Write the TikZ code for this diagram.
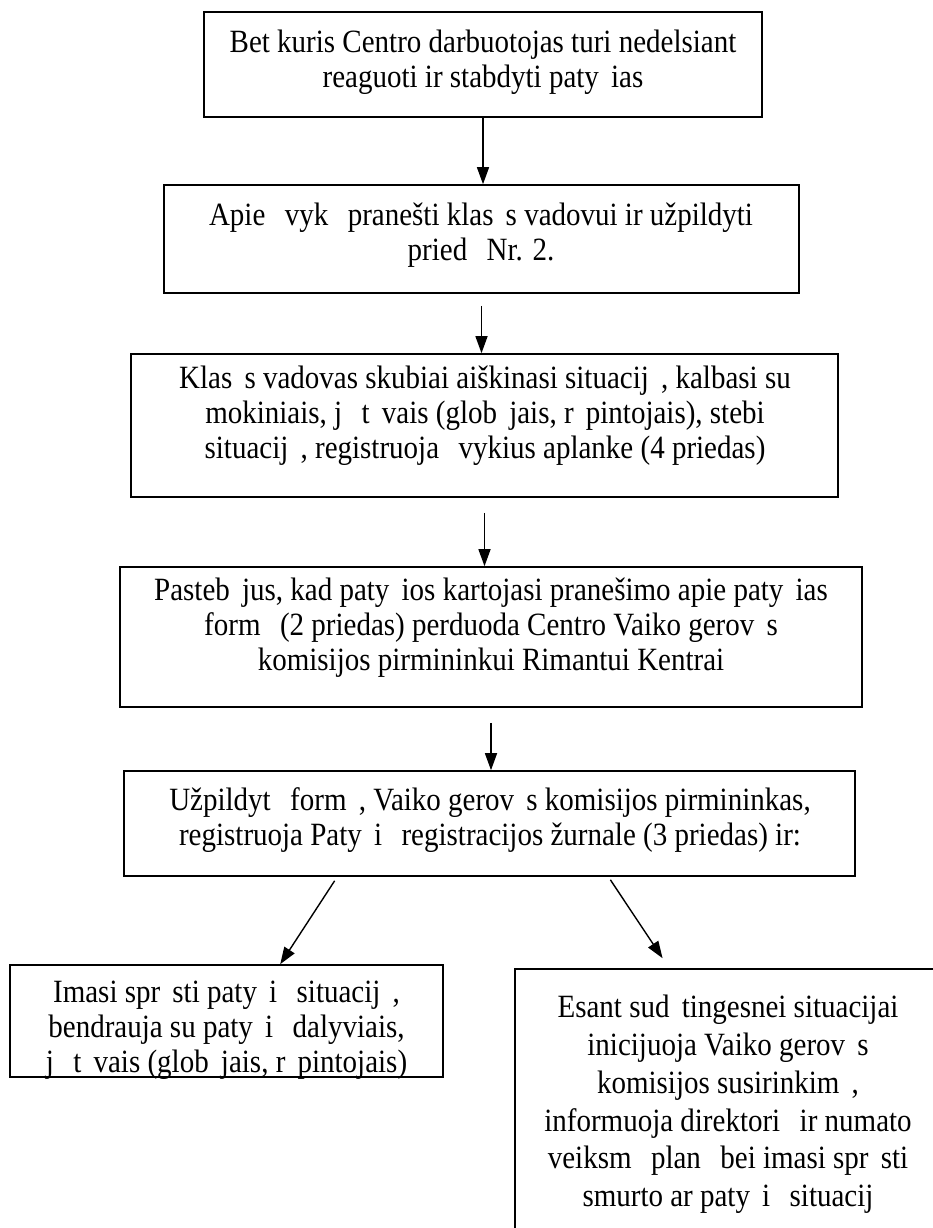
\documentclass[tikz,border=0pt]{standalone}
\usepackage{fontspec}
\setmainfont{Liberation Serif}
\usetikzlibrary{arrows.meta,calc}
\newcommand\mc{\hspace{0.42em}}
\newcommand\tx[2][31.25]{\scalebox{1}[1.12]{\parbox{900pt}{\centering\fontsize{29}{#1}\selectfont\lineskiplimit=-30pt #2}}}
\tikzset{
  box/.style={draw, line width=1.6pt, rectangle, inner sep=0pt},
  txt/.style={inner sep=0pt},
  arr/.style={line width=1.4pt, -{Triangle[length=17pt,width=12pt]}}
}
\begin{document}
\begin{tikzpicture}[x=1pt,y=-1pt]
\useasboundingbox (0,0) rectangle (933,1228);
\clip (0,0) rectangle (933,1228);
% boxes
\node[box, minimum width=558pt, minimum height=105pt] (b1) at (483,64.5) {};
\node[box, minimum width=635pt, minimum height=108pt] (b2) at (481.5,239) {};
\node[box, minimum width=707pt, minimum height=143pt] (b3) at (484.5,425.5) {};
\node[box, minimum width=742pt, minimum height=140pt] (b4) at (491,637) {};
\node[box, minimum width=731pt, minimum height=105pt] (b5) at (489.5,823.5) {};
\node[box, minimum width=433pt, minimum height=112pt] (b6) at (226.5,1021) {};
\node[box, minimum width=426pt, minimum height=276pt] (b7) at (728,1107) {};
% texts
\node[txt] (t1) at (483,62.5) {\tx{Bet kuris Centro darbuotojas turi nedelsiant\\reaguoti ir stabdyti paty\mc ias}};
\node[txt] (t2) at (481,235.5) {\tx{Apie \mc vyk\mc\ pranešti klas\mc s vadovui ir užpildyti\\pried\mc\ Nr. 2.}};
\node[txt] (t3) at (485,415.5) {\tx{Klas\mc s vadovas skubiai aiškinasi situacij\mc , kalbasi su\\mokiniais, j\mc\ t\mc vais (glob\mc jais, r\mc pintojais), stebi\\situacij\mc , registruoja \mc vykius aplanke (4 priedas)}};
\node[txt] (t4) at (491,627.5) {\tx{Pasteb\mc jus, kad paty\mc ios kartojasi pranešimo apie paty\mc ias\\form\mc\ (2 priedas) perduoda Centro Vaiko gerov\mc s\\komisijos pirmininkui Rimantui Kentrai}};
\node[txt] (t5) at (490,820.5) {\tx{Užpildyt\mc\ form\mc , Vaiko gerov\mc s komisijos pirmininkas,\\registruoja Paty\mc i\mc\ registracijos žurnale (3 priedas) ir:}};
\node[txt] (t6) at (226.5,1030) {\tx{Imasi spr\mc sti paty\mc i\mc\ situacij\mc ,\\bendrauja su paty\mc i\mc\ dalyviais,\\j\mc\ t\mc vais (glob\mc jais, r\mc pintojais)}};
\node[txt] (t7) at (728,1104.5) {\tx[33.75]{Esant sud\mc tingesnei situacijai\\inicijuoja Vaiko gerov\mc s\\komisijos susirinkim\mc ,\\informuoja direktori\mc\ ir numato\\veiksm\mc\ plan\mc\ bei imasi spr\mc sti\\smurto ar paty\mc i\mc\ situacij\mc}};
% connectors
\draw[arr] (b1.south) -- (b1.south |- b2.north);
\draw[arr] ([yshift=-12pt]b2.south) -- (b2.south |- b3.north);
\draw[arr] ([yshift=-15pt]b3.south) -- (b3.south |- b4.north);
\draw[arr] ([yshift=-15pt]b4.south) -- (b4.south |- b5.north);
\coordinate (l0) at ($(b5.south west)!0.2886!(b5.south east)+(0,4)$);
\coordinate (r0) at ($(b5.south west)!0.665!(b5.south east)+(0,3)$);
\draw[arr] (l0) -- ($(b6.north west)!0.6236!(b6.north east)$);
\draw[arr] (r0) -- ($(b7.north west)!0.347!(b7.north east)+(0,-10)$);
\end{tikzpicture}
\end{document}
